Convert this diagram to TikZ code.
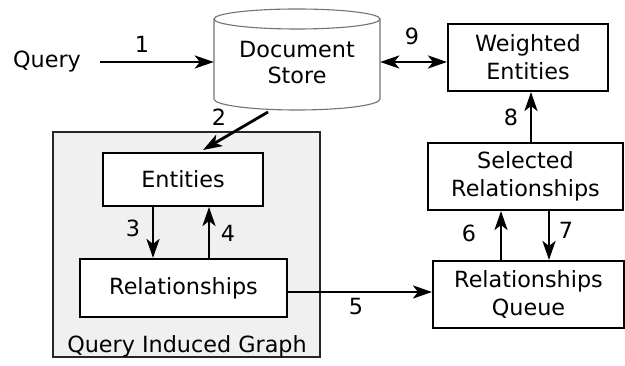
\documentclass[tikz,border=0pt]{standalone}
\usepackage{fontspec}
\setmainfont{DejaVu Sans}
\usetikzlibrary{arrows.meta}
\begin{document}
\begin{tikzpicture}[x=1pt,y=-1pt,
  font=\fontsize{22.3}{28}\selectfont,
  box/.style={draw=black, line width=2pt, fill=white, align=center, inner sep=0pt},
  tip/.tip={Stealth[length=19pt,width=13pt,inset=5pt]},
  flow/.style={line width=2.8pt, -tip},
  both/.style={line width=2.8pt, tip-tip},
  cyl/.style={draw=black!55, line width=1.1pt, fill=white},
  num/.style={inner sep=0pt}]
\useasboundingbox (0,0) rectangle (625,366);

% query induced graph container
\node[draw=black!85, line width=2pt, fill=black!6, minimum width=267pt, minimum height=225pt, inner sep=0pt] (qig) at (186.5,244.5) {};
\node (qiglabel) at (187,346) {Query Induced Graph};

% document store cylinder
\draw[cyl] (214,19) -- (214,99) arc[start angle=180,end angle=360,x radius=83pt,y radius=11pt] -- (380,19);
\draw[cyl] (297,19) ellipse[x radius=83pt,y radius=10pt];
\node[align=center, font=\fontsize{22.3}{26}\selectfont, minimum width=166pt, minimum height=80pt, inner sep=0pt] (store) at (297,63) {Document\\Store};

\node (query) at (47,62) {Query};
\coordinate (qout) at (100,62);
\coordinate (s2) at (268,112);

% boxes
\node[box, minimum width=160pt, minimum height=53pt] (ent) at (183,179.5) {Entities};
\node[box, minimum width=207pt, minimum height=58pt] (rel) at (183.5,288) {Relationships};
\node[box, minimum width=160pt, minimum height=67pt] (went) at (528,57.5) {Weighted\\Entities};
\node[box, minimum width=195pt, minimum height=67pt] (sel) at (525.5,176.5) {Selected\\Relationships};
\node[box, minimum width=191pt, minimum height=67pt] (queue) at (528.5,294.5) {Relationships\\Queue};

% helper columns for vertical arrows
\coordinate (c3) at (153,0);
\coordinate (c4) at (209,0);
\coordinate (c6) at (501,0);
\coordinate (c7) at (549,0);
\coordinate (c8) at (531,0);

% connectors
\draw[flow] (qout) -- (qout -| store.west);
\draw[both] (store.east |- 0,62) -- (went.west |- 0,62);
\draw[flow] (s2) -- ([xshift=20pt,yshift=2pt]ent.north);
\draw[flow] (ent.south -| c3) -- (rel.north -| c3);
\draw[flow] (rel.north -| c4) -- (ent.south -| c4);
\draw[flow] (rel.east |- 0,292) -- (queue.west |- 0,292);
\draw[flow] (queue.north -| c6) -- (sel.south -| c6);
\draw[flow] (sel.south -| c7) -- (queue.north -| c7);
\draw[flow] (sel.north -| c8) -- (went.south -| c8);

% step numbers
\node[num] (n1) at (142,44) {1};
\node[num] (n2) at (219,117) {2};
\node[num] (n3) at (133,228) {3};
\node[num] (n4) at (228,233) {4};
\node[num] (n5) at (356,307) {5};
\node[num] (n6) at (469,233) {6};
\node[num] (n7) at (566,230) {7};
\node[num] (n8) at (511,117) {8};
\node[num] (n9) at (412,36) {9};
\end{tikzpicture}
\end{document}
